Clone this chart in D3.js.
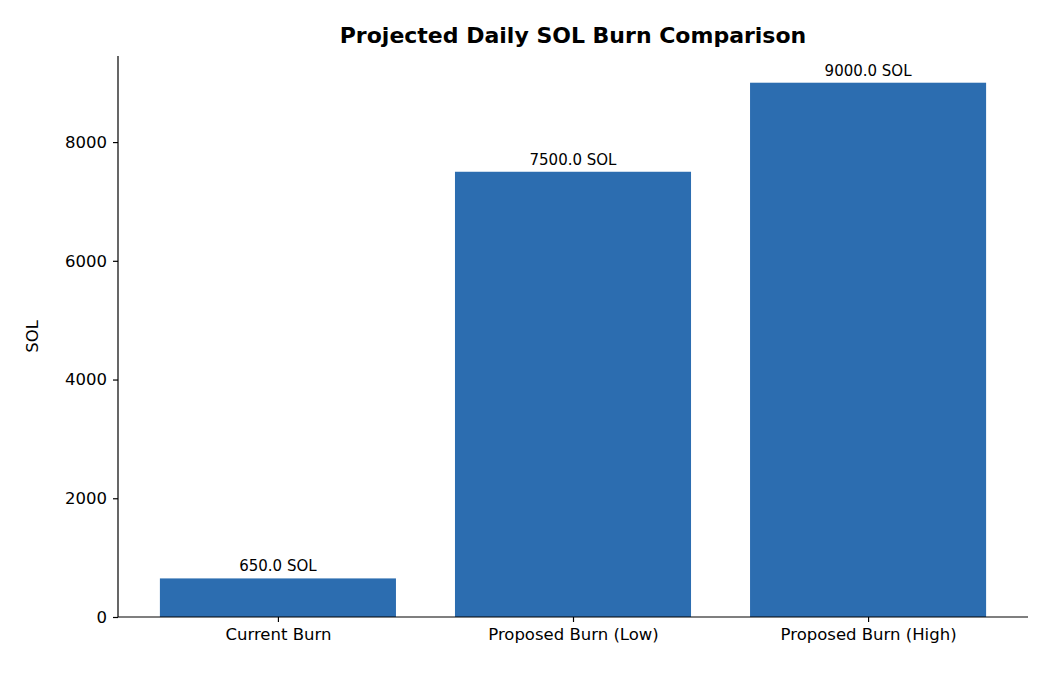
<!DOCTYPE html>
<html>
<head>
<meta charset="utf-8">
<script src="https://cdn.jsdelivr.net/npm/d3@7"></script>
<style>
body { margin: 0; background: #fff; font-family: "DejaVu Sans", sans-serif; }
</style>
</head>
<body>
<div id="chart-area"></div>
<script>
const categories = ["Current Burn", "Proposed Burn (Low)", "Proposed Burn (High)"]
const values = [650, 7500, 9000]
const yTicks = [0, 2000, 4000, 6000, 8000]

const MARGIN = { LEFT: 118, RIGHT: 22, TOP: 56, BOTTOM: 58 }
const WIDTH = 1050 - MARGIN.LEFT - MARGIN.RIGHT
const HEIGHT = 675 - MARGIN.TOP - MARGIN.BOTTOM

const svg = d3.select("#chart-area").append("svg")
  .attr("width", 1050)
  .attr("height", 675)

const g = svg.append("g")
  .attr("transform", `translate(${MARGIN.LEFT}, ${MARGIN.TOP})`)

// SCALES (matplotlib style: bar width 0.8, padded limits)
const x = d3.scaleLinear().domain([-0.542, 2.542]).range([0, WIDTH])
const y = d3.scaleLinear().domain([0, 9450]).range([HEIGHT, 0])
const bw = x(0.8) - x(0)

// BARS
g.selectAll("rect").data(values).enter().append("rect")
  .attr("x", (d, i) => x(i - 0.4))
  .attr("y", d => y(d))
  .attr("width", bw)
  .attr("height", d => HEIGHT - y(d))
  .attr("fill", "#2c6db0")

// VALUE LABELS
g.selectAll(".lbl").data(values).enter().append("text")
  .attr("class", "lbl")
  .attr("x", (d, i) => x(i))
  .attr("y", d => y(d) - 7)
  .attr("text-anchor", "middle")
  .attr("font-size", 15)
  .text(d => d.toFixed(1) + " SOL")

// AXES
const xAxis = g.append("g")
  .attr("transform", `translate(0, ${HEIGHT})`)
  .call(d3.axisBottom(x).tickValues([0, 1, 2]).tickFormat(i => categories[i]).tickSize(5).tickPadding(6))
xAxis.select(".domain").attr("d", `M0,0H${WIDTH}`)

const yAxis = g.append("g")
  .call(d3.axisLeft(y).tickValues(yTicks).tickFormat(d3.format("d")).tickSize(5).tickPadding(6))
yAxis.select(".domain").attr("d", `M0,0V${HEIGHT}`)

svg.selectAll(".tick text").attr("font-size", 16.5).attr("fill", "#000")
  .attr("font-family", "DejaVu Sans")
svg.selectAll(".domain, .tick line").attr("stroke", "#000").attr("stroke-width", 1.2)

// TITLES
svg.append("text")
  .attr("x", MARGIN.LEFT + WIDTH / 2).attr("y", 43)
  .attr("text-anchor", "middle")
  .attr("font-size", 22).attr("font-weight", "bold")
  .text("Projected Daily SOL Burn Comparison")

svg.append("text")
  .attr("transform", `translate(38, ${MARGIN.TOP + HEIGHT / 2}) rotate(-90)`)
  .attr("text-anchor", "middle")
  .attr("font-size", 16.5)
  .text("SOL")
</script>
</body>
</html>
